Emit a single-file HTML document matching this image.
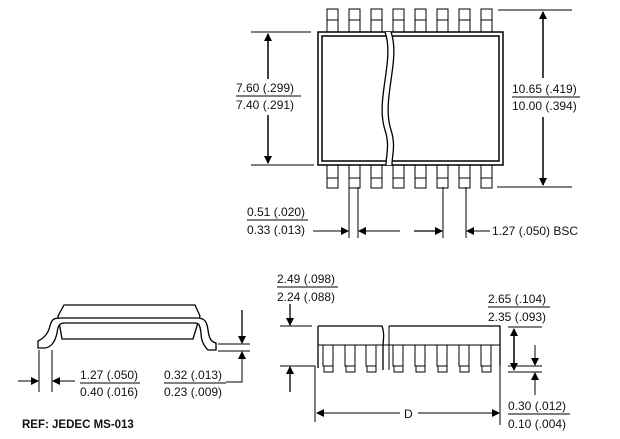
<!DOCTYPE html>
<html><head><meta charset="utf-8"><style>
html,body{margin:0;padding:0;background:#fff;}
svg{display:block;}
text{font-family:"Liberation Sans",sans-serif;font-size:12px;fill:#111;}
</style></head><body>
<svg width="620" height="439" viewBox="0 0 620 439" xmlns="http://www.w3.org/2000/svg">
<defs>
<marker id="a" markerWidth="8" markerHeight="8" refX="7" refY="4" orient="auto" markerUnits="userSpaceOnUse"><path d="M0,0 L8,4 L0,8 z" fill="#000"/></marker>
</defs>
<g stroke="#000" fill="none" stroke-width="1">
<g>
<rect x="327" y="9" width="11" height="23"/><line x1="327" y1="20" x2="338" y2="20"/>
<rect x="349" y="9" width="11" height="23"/><line x1="349" y1="20" x2="360" y2="20"/>
<rect x="371" y="9" width="11" height="23"/><line x1="371" y1="20" x2="382" y2="20"/>
<rect x="393" y="9" width="11" height="23"/><line x1="393" y1="20" x2="404" y2="20"/>
<rect x="415" y="9" width="11" height="23"/><line x1="415" y1="20" x2="426" y2="20"/>
<rect x="437" y="9" width="11" height="23"/><line x1="437" y1="20" x2="448" y2="20"/>
<rect x="459" y="9" width="11" height="23"/><line x1="459" y1="20" x2="470" y2="20"/>
<rect x="481" y="9" width="11" height="23"/><line x1="481" y1="20" x2="492" y2="20"/>
</g>
<g transform="translate(0,156)">
<rect x="327" y="9" width="11" height="23"/><line x1="327" y1="22" x2="338" y2="22"/>
<rect x="349" y="9" width="11" height="23"/><line x1="349" y1="22" x2="360" y2="22"/>
<rect x="371" y="9" width="11" height="23"/><line x1="371" y1="22" x2="382" y2="22"/>
<rect x="393" y="9" width="11" height="23"/><line x1="393" y1="22" x2="404" y2="22"/>
<rect x="415" y="9" width="11" height="23"/><line x1="415" y1="22" x2="426" y2="22"/>
<rect x="437" y="9" width="11" height="23"/><line x1="437" y1="22" x2="448" y2="22"/>
<rect x="459" y="9" width="11" height="23"/><line x1="459" y1="22" x2="470" y2="22"/>
<rect x="481" y="9" width="11" height="23"/><line x1="481" y1="22" x2="492" y2="22"/>
</g>
<rect x="318" y="32" width="185" height="133" fill="#fff" stroke-width="1.5"/>
<rect x="322" y="36" width="177" height="125" stroke-width="1.5"/>
<path d="M385,32 C395,60 375,100 385,130 C390,145 386,155 386,165 L392,165 C392,155 396,145 391,130 C381,100 401,60 391,32 Z" fill="#fff" stroke="none"/>
<path d="M385,32 C395,60 375,100 385,130 C390,145 386,155 386,165" stroke-width="1.3"/>
<path d="M391,32 C401,60 381,100 391,130 C396,145 392,155 392,165" stroke-width="1.3"/>
<line x1="251" y1="32" x2="311" y2="32"/><line x1="251" y1="165" x2="314" y2="165"/>
<line x1="268" y1="79" x2="268" y2="34" stroke-width="1.5" marker-end="url(#a)"/>
<line x1="268" y1="115" x2="268" y2="163" stroke-width="1.5" marker-end="url(#a)"/>
<line x1="236" y1="96" x2="301" y2="96"/>
<line x1="498" y1="10" x2="572" y2="10"/><line x1="497" y1="187" x2="572" y2="187"/>
<line x1="543" y1="78" x2="543" y2="12" stroke-width="1.5" marker-end="url(#a)"/>
<line x1="543" y1="117" x2="543" y2="185" stroke-width="1.5" marker-end="url(#a)"/>
<line x1="512" y1="97" x2="580" y2="97"/>
<line x1="349" y1="187" x2="349" y2="238"/><line x1="358" y1="187" x2="358" y2="238"/>
<line x1="443" y1="187" x2="443" y2="238"/><line x1="466" y1="187" x2="466" y2="238"/>
<line x1="313" y1="231" x2="348" y2="231" marker-end="url(#a)"/>
<line x1="400" y1="231" x2="359" y2="231" marker-end="url(#a)"/>
<line x1="414" y1="231" x2="442" y2="231" stroke-width="1.3" marker-end="url(#a)"/>
<line x1="490" y1="231" x2="467" y2="231" marker-end="url(#a)"/>
<line x1="247" y1="220" x2="308" y2="220"/>
<path d="M64,305 L195,305 L200,316 L193,339 L62,339 L58,316 Z" stroke-width="1.3"/>
<path d="M38,348 L38,341 C44,338 48,334 50,326 C52,318 55,318 62,318 L197,318 C205,318 207,322 208,330 C209,338 211,342 216,343 L216,350 L208,350 C204,346 201,340 201,333 C200,325 199,323 195,323 L64,323 C60,323 58,325 57,333 C55,343 50,348 44,348 Z" fill="#fff" stroke-width="1.3"/>
<line x1="39" y1="350" x2="39" y2="392"/><line x1="52" y1="350" x2="52" y2="392"/>
<line x1="18" y1="381" x2="38" y2="381" marker-end="url(#a)"/>
<line x1="75" y1="381" x2="53" y2="381" marker-end="url(#a)"/>
<line x1="80" y1="383" x2="140" y2="383"/>
<line x1="218" y1="344" x2="250" y2="344"/><line x1="218" y1="351" x2="250" y2="351"/>
<line x1="242" y1="310" x2="242" y2="343" stroke-width="1.3" marker-end="url(#a)"/>
<polyline points="226,382 242,382 242,352" marker-end="url(#a)"/>
<line x1="164" y1="383" x2="226" y2="383"/>
<path d="M318,326 L382,326 C385,335 383,340 383,346 L383,370 M389,326 L500,326 L500,366 M318,326 L318,368" stroke-width="1.3"/>
<line x1="318" y1="345" x2="500" y2="345"/>
<line x1="389" y1="326" x2="389" y2="370"/>
<g fill="#fff">
<rect x="323" y="345" width="10" height="21"/><rect x="324" y="366" width="9" height="6"/>
<rect x="345" y="345" width="10" height="21"/><rect x="346" y="366" width="9" height="6"/>
<rect x="366" y="345" width="10" height="21"/><rect x="367" y="366" width="9" height="6"/>
<rect x="393" y="345" width="10" height="21"/><rect x="394" y="366" width="9" height="6"/>
<rect x="415" y="345" width="10" height="21"/><rect x="416" y="366" width="9" height="6"/>
<rect x="437" y="345" width="10" height="21"/><rect x="438" y="366" width="9" height="6"/>
<rect x="459" y="345" width="10" height="21"/><rect x="460" y="366" width="9" height="6"/>
<rect x="481" y="345" width="10" height="21"/><rect x="482" y="366" width="9" height="6"/>
</g>
<line x1="280" y1="326" x2="312" y2="326"/>
<polyline points="280,366 315,366 315,422"/>
<line x1="290" y1="304" x2="290" y2="325" stroke-width="1.3" marker-end="url(#a)"/>
<line x1="290" y1="392" x2="290" y2="367" stroke-width="1.3" marker-end="url(#a)"/>
<line x1="277" y1="287" x2="338" y2="287"/>
<line x1="500" y1="326" x2="500" y2="425"/>
<line x1="508" y1="327" x2="542" y2="327"/><line x1="508" y1="366" x2="542" y2="366"/><line x1="508" y1="372" x2="542" y2="372"/>
<line x1="514" y1="349" x2="514" y2="329" stroke-width="1.5" marker-end="url(#a)"/>
<line x1="514" y1="349" x2="514" y2="370" stroke-width="1.5" marker-end="url(#a)"/>
<line x1="535" y1="345" x2="535" y2="365" marker-end="url(#a)"/>
<line x1="535" y1="395" x2="535" y2="373" marker-end="url(#a)"/>
<line x1="488" y1="307" x2="550" y2="307"/>
<line x1="508" y1="414" x2="570" y2="414"/>
<line x1="400" y1="413" x2="317" y2="413" marker-end="url(#a)"/>
<line x1="418" y1="413" x2="499" y2="413" marker-end="url(#a)"/>
</g>
<text x="236" y="92">7.60 (.299)</text><text x="236" y="109">7.40 (.291)</text>
<text x="512" y="93">10.65 (.419)</text><text x="512" y="110">10.00 (.394)</text>
<text x="247" y="216">0.51 (.020)</text><text x="247" y="234">0.33 (.013)</text>
<text x="492" y="235">1.27 (.050) BSC</text>
<text x="80" y="379">1.27 (.050)</text><text x="80" y="396">0.40 (.016)</text>
<text x="164" y="379">0.32 (.013)</text><text x="164" y="396">0.23 (.009)</text>
<text x="22" y="428" style="font-weight:bold;font-size:11.5px">REF: JEDEC MS-013</text>
<text x="277" y="283">2.49 (.098)</text><text x="277" y="301">2.24 (.088)</text>
<text x="488" y="303">2.65 (.104)</text><text x="488" y="321">2.35 (.093)</text>
<text x="508" y="410">0.30 (.012)</text><text x="508" y="428">0.10 (.004)</text>
<text x="404" y="418" style="font-size:12px">D</text>
</svg>
</body></html>
